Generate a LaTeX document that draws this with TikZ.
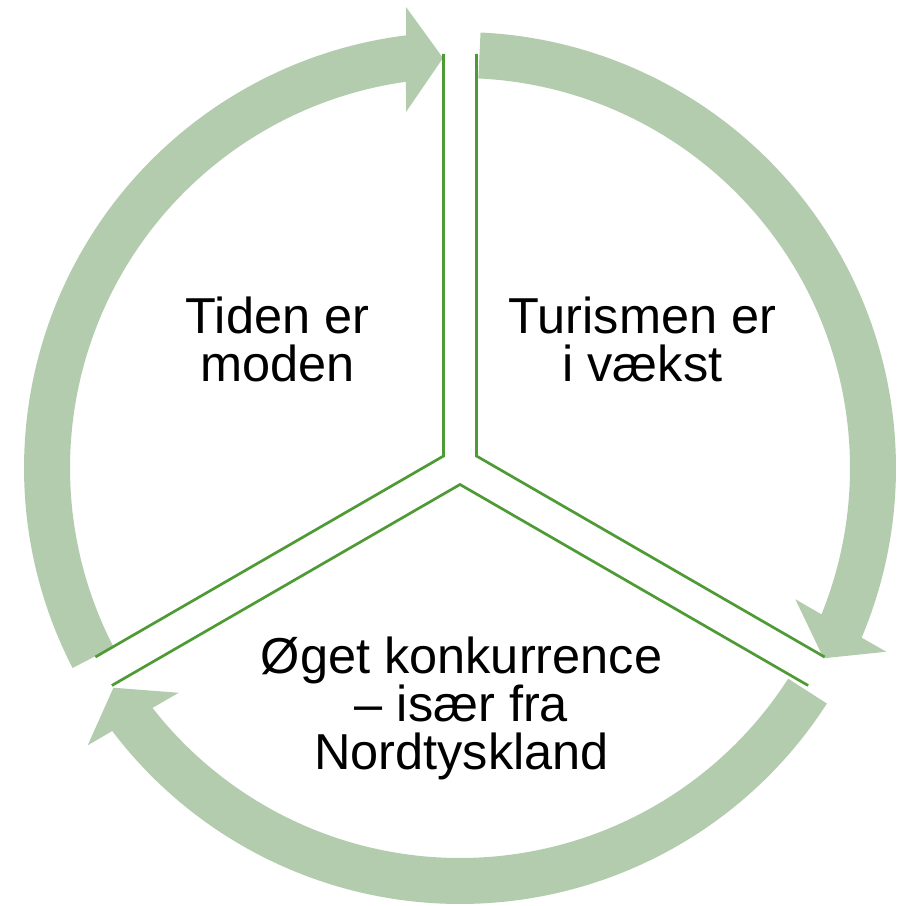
\documentclass[tikz,border=0pt]{standalone}
\usepackage{fontspec}
\setmainfont{Liberation Sans}
\definecolor{arrowgreen}{HTML}{B3CCAE}
\definecolor{linegreen}{HTML}{4E9A35}
\begin{document}
\begin{tikzpicture}[x=1pt,y=1pt,
  cyclearrow/.style={fill=arrowgreen, draw=none},
  segline/.style={draw=linegreen, line width=2.7pt, line join=miter},
  lbl/.style={align=center, inner sep=0pt, anchor=base, font=\fontsize{50.5}{48.4}\selectfont}]
\useasboundingbox (0,0) rectangle (902,906);
\coordinate (C) at (460,438);
\coordinate (P) at (460,440.5);
% circular arrows
\foreach \k in {0,1,2}{
  \begin{scope}[shift={(C)}, rotate=-120*\k]
    \fill[cyclearrow] (207.3:390) -- (207.3:436)
      arc[start angle=207.3, end angle=97.1, radius=436]
      -- (-54,461) -- (-17,410) -- (-54,356)
      -- (97.96:390) arc[start angle=97.96, end angle=207.3, radius=390] -- cycle;
  \end{scope}}
% segment edges
\path (P) ++(150:19) coordinate (A1);
\path (A1) ++(90:402) coordinate (A1a);
\path (A1) ++(210:402) coordinate (A1b);
\path (P) ++(30:19) coordinate (A2);
\path (A2) ++(90:402) coordinate (A2a);
\path (A2) ++(330:402) coordinate (A2b);
\path (P) ++(270:19) coordinate (A3);
\path (A3) ++(210:402) coordinate (A3a);
\path (A3) ++(330:402) coordinate (A3b);
\draw[segline] (A1a) -- (A1) -- (A1b);
\draw[segline] (A2a) -- (A2) -- (A2b);
\draw[segline] (A3a) -- (A3) -- (A3b);
% labels (anchored at the baseline of the last line)
\node[lbl] (t1) at (277.5,524.3) {Tiden er\\moden};
\node[lbl] (t2) at (642.5,524.3) {Turismen er\\i vækst};
\node[lbl] (t3) at (461.5,136) {Øget konkurrence\\– især fra\\Nordtyskland};
\end{tikzpicture}
\end{document}
